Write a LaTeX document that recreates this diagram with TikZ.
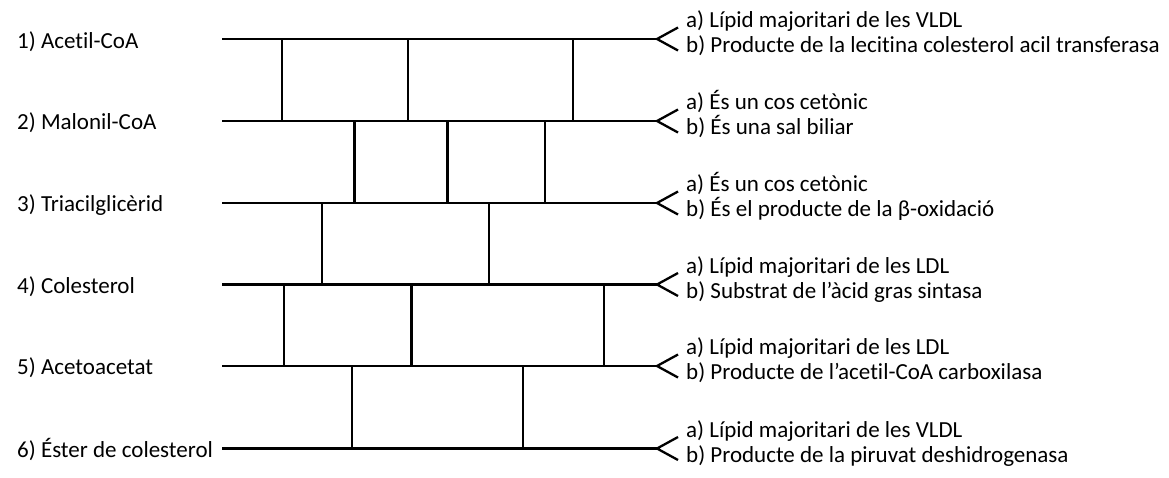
\documentclass[tikz,border=0pt]{standalone}
\usepackage{fontspec}
\setmainfont[Ligatures=NoCommon]{Carlito}
\begin{document}
\begin{tikzpicture}[x=1pt,y=-1pt,
  bar/.style={line width=2.9pt,line cap=butt},
  fork/.style={line width=2.3pt,line join=miter},
  lbl/.style={anchor=base west,inner sep=0pt,font=\fontsize{23}{27}\selectfont},
  opt/.style={anchor=base west,inner sep=0pt,font=\fontsize{23}{27}\selectfont}]
\useasboundingbox (0,0) rectangle (1169,477);
\foreach \i/\y in {1/39,2/121,3/203,4/284.5,5/366,6/448.5}{
  \coordinate (r\i) at (222,\y);
  \coordinate (t\i) at (657,\y);
  \coordinate (u\i) at (678,\y-11.5);
  \coordinate (d\i) at (678,\y+11.5);
  \draw[bar] (r\i) -- (t\i);
  \draw[fork] (u\i) -- (t\i) -- (d\i);
}
% left labels
\node[lbl] (n1) at (17,48) {1) Acetil-CoA};
\node[lbl] (n2) at (17,129.5) {2) Malonil-CoA};
\node[lbl] (n3) at (17,211.5) {3) Triacilglicèrid};
\node[lbl] (n4) at (17,293) {4) Colesterol};
\node[lbl] (n5) at (17,374.5) {5) Acetoacetat};
\node[lbl] (n6) at (17,457) {6) Éster de colesterol};
% right options
\node[opt] (a1) at (686,27.5) {a) Lípid majoritari de les VLDL};
\node[opt] (b1) at (686,52.5) {b) Producte de la lecitina colesterol acil transferasa};
\node[opt] (a2) at (686,109.5) {a) És un cos cetònic};
\node[opt] (b2) at (686,134.5) {b) És una sal biliar};
\node[opt] (a3) at (686,191.5) {a) És un cos cetònic};
\node[opt] (b3) at (686,216.5) {b) És el producte de la β-oxidació};
\node[opt] (a4) at (686,273) {a) Lípid majoritari de les LDL};
\node[opt] (b4) at (686,298) {b) Substrat de l’àcid gras sintasa};
\node[opt] (a5) at (686,354.5) {a) Lípid majoritari de les LDL};
\node[opt] (b5) at (686,379.5) {b) Producte de l’acetil-CoA carboxilasa};
\node[opt] (a6) at (686,437) {a) Lípid majoritari de les VLDL};
\node[opt] (b6) at (686,462) {b) Producte de la piruvat deshidrogenasa};
% verticals
\foreach \x in {282,408,573} \draw[bar] (\x,0 |- r1) -- (\x,0 |- r2);
\foreach \x in {354.5,447.5,545} \draw[bar] (\x,0 |- r2) -- (\x,0 |- r3);
\foreach \x in {322,489} \draw[bar] (\x,0 |- r3) -- (\x,0 |- r4);
\foreach \x in {284,411.5,604} \draw[bar] (\x,0 |- r4) -- (\x,0 |- r5);
\foreach \x in {352,523} \draw[bar] (\x,0 |- r5) -- (\x,0 |- r6);
\end{tikzpicture}
\end{document}
